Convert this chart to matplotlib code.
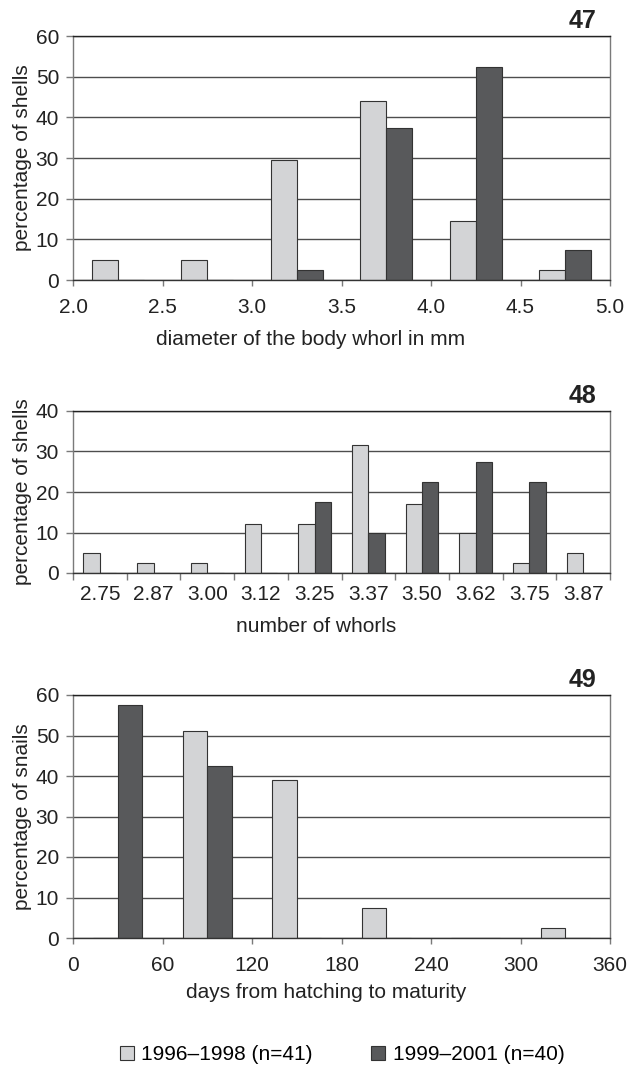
import numpy as np
import matplotlib
matplotlib.use('Agg')
import matplotlib.pyplot as plt
from matplotlib.patches import Patch

plt.rcParams['font.family'] = ['Liberation Sans', 'DejaVu Sans']

# colours of the two periods
LIGHT = '#d3d4d6'
DARK = '#58595b'
EDGE = '#333333'
GRID = '#4d4d4d'
SPINE = '#7a7a7a'
TEXT = '#222222'

series_names = ['1996\u20131998 (n=41)', '1999\u20132001 (n=40)']

# 47: diameter of the body whorl (bin centres, mm)
diam_centres = [2.25, 2.75, 3.25, 3.75, 4.25, 4.75]
diam_old = [5, 5, 29.5, 44, 14.5, 2.5]
diam_new = [0, 0, 2.5, 37.5, 52.5, 7.5]

# 48: number of whorls
whorl_labels = ['2.75', '2.87', '3.00', '3.12', '3.25', '3.37', '3.50', '3.62', '3.75', '3.87']
whorl_old = [5, 2.5, 2.5, 12, 12, 31.5, 17, 10, 2.5, 5]
whorl_new = [0, 0, 0, 0, 17.5, 10, 22.5, 27.5, 22.5, 0]

# 49: days from hatching to maturity (bin centres, days)
days_centres = [30, 90, 150, 210, 270, 330]
days_old = [0, 51, 39, 7.5, 0, 2.5]
days_new = [57.5, 42.5, 0, 0, 0, 0]

W, H = 629, 1068
fig = plt.figure(figsize=(W / 100, H / 100), dpi=100)

def px_axes(left, top, right, bottom):
    return fig.add_axes([left / W, 1 - bottom / H, (right - left) / W, (bottom - top) / H])

def style(ax, ymax, ystep, ylabel, xlabel, num, xlab_x, xlab_base):
    # xlab_x, xlab_base: label centre and baseline in figure pixels
    ax.set_ylim(0, ymax)
    ax.set_yticks(np.arange(0, ymax + 1, ystep))
    ax.yaxis.grid(True, color=GRID, linewidth=1.0)
    ax.set_axisbelow(True)
    for s in ax.spines.values():
        s.set_color(SPINE)
        s.set_linewidth(1.0)
    ax.spines['bottom'].set_color('#333333')
    ax.spines['top'].set_color('#222222')
    ax.tick_params(axis='both', labelsize=15, colors=SPINE, labelcolor=TEXT,
                   length=4, width=1.0)
    ax.tick_params(axis='x', pad=9)
    ax.tick_params(axis='y', length=5, pad=5)
    ax.set_ylabel(ylabel, fontsize=15, color=TEXT, labelpad=3)
    ax.set_xlabel(xlabel, fontsize=15, color=TEXT)
    pos = ax.get_position()
    bottom_px = (1 - pos.y0) * H
    ax.xaxis.set_label_coords((xlab_x / W - pos.x0) / pos.width,
                              -(xlab_base - bottom_px) / (pos.height * H))
    ax.xaxis.label.set_verticalalignment('baseline')
    ax.annotate(num, xy=(0.9745, 1.0), xycoords='axes fraction', xytext=(0, 6),
                textcoords='offset points', ha='right', va='baseline',
                fontsize=18, fontweight='bold', color=TEXT)

bar_kw = dict(edgecolor=EDGE, linewidth=0.8, align='edge')

# panel 47
ax1 = px_axes(73, 36, 610, 280)
w = 0.146
ax1.bar(diam_centres, diam_old, width=-w, color=LIGHT, **bar_kw)
ax1.bar(diam_centres, diam_new, width=w, color=DARK, **bar_kw)
ax1.set_xlim(2.0, 5.0)
ax1.set_xticks(np.arange(2.0, 5.01, 0.5))
ax1.set_xticklabels(['%.1f' % v for v in np.arange(2.0, 5.01, 0.5)])
style(ax1, 60, 10, 'percentage of shells', 'diameter of the body whorl in mm', '47', 311, 345)

# panel 48
ax2 = px_axes(73, 411, 610, 573)
x = np.arange(len(whorl_labels))
w = 0.305
ax2.bar(x, whorl_old, width=-w, color=LIGHT, **bar_kw)
ax2.bar(x, whorl_new, width=w, color=DARK, **bar_kw)
ax2.set_xlim(-0.5, len(whorl_labels) - 0.5)
ax2.set_xticks(x)
ax2.set_xticklabels(whorl_labels)
ax2.set_xticks(np.arange(-0.5, len(whorl_labels)), minor=True)
style(ax2, 40, 10, 'percentage of shells', 'number of whorls', '48', 316, 632)
ax2.tick_params(axis='x', which='major', length=0, pad=8.5)
ax2.tick_params(axis='x', which='minor', length=5, width=1.0, colors=SPINE)

# panel 49
ax3 = px_axes(73, 695, 610, 938)
w = 16.5
ax3.bar(days_centres, days_old, width=-w, color=LIGHT, **bar_kw)
ax3.bar(days_centres, days_new, width=w, color=DARK, **bar_kw)
ax3.set_xlim(0, 360)
ax3.set_xticks(np.arange(0, 361, 60))
style(ax3, 60, 10, 'percentage of snails', 'days from hatching to maturity', '49', 326, 998)

handles = [Patch(facecolor=LIGHT, edgecolor=EDGE, linewidth=0.8),
           Patch(facecolor=DARK, edgecolor=EDGE, linewidth=0.8)]
fig.legend(handles, series_names, loc='center', bbox_to_anchor=(342 / W, 1 - 1055 / H),
           ncol=2, frameon=False, fontsize=15, handlelength=0.67, handleheight=0.67,
           handletextpad=0.37, columnspacing=2.8, borderpad=0)

fig.savefig('out.png', dpi=100)
